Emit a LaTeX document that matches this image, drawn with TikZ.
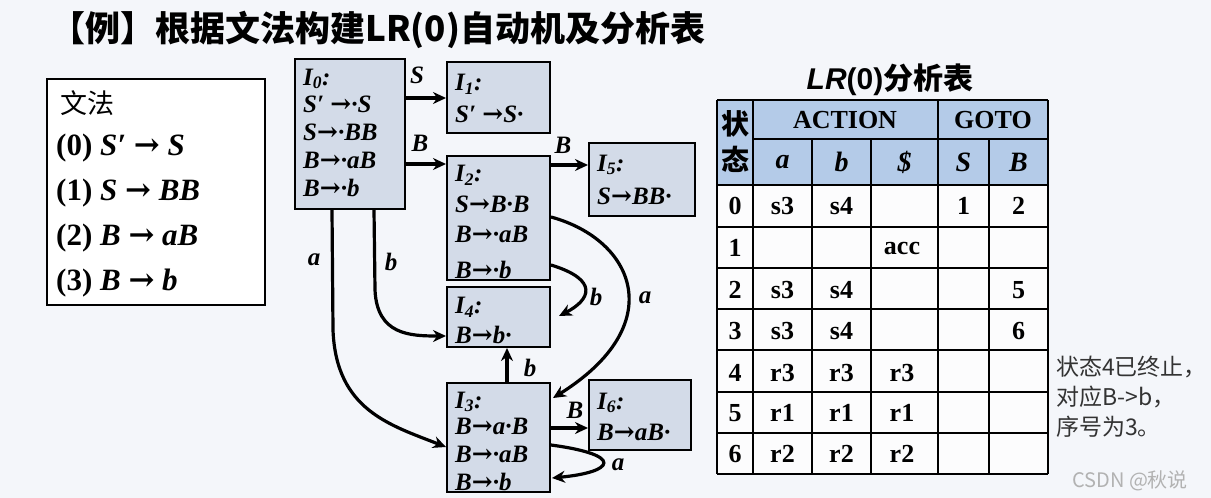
\documentclass[tikz,border=0pt]{standalone}
\usepackage{fontspec}
\setmainfont{Liberation Serif}
\newfontfamily\cjk{Noto Sans CJK SC}
\newfontfamily\hsans{Liberation Sans}
\newfontfamily\dv{DejaVu Serif}
\usetikzlibrary{arrows.meta}
\newcommand{\ar}{{\dv\char"2192}}
\begin{document}
\begin{tikzpicture}[x=1pt,y=-1pt,
  stbox/.style={draw,line width=2pt,fill=boxc},
  ln/.style={anchor=west,font=\fontsize{25}{25}\selectfont\bfseries\itshape,inner sep=0pt},
  gl/.style={anchor=west,font=\fontsize{31}{31}\selectfont\bfseries,inner sep=0pt},
  lab/.style={font=\fontsize{25}{25}\selectfont\bfseries\itshape,inner sep=0pt},
  edge/.style={line width=3.2pt,-{Stealth[length=13pt,width=12pt]}},
  cell/.style={font=\fontsize{26}{26}\selectfont\bfseries,inner sep=0pt},
  tl/.style={line width=2pt}]
\definecolor{boxc}{HTML}{D3DBE8}
\definecolor{hdr}{HTML}{B4CBE8}
\definecolor{bgc}{HTML}{F4F6FA}
\useasboundingbox (0,0) rectangle (1211,498);
\fill[bgc] (0,0) rectangle (1211,498);
% title
\node[anchor=west,inner sep=0pt,font=\cjk\fontsize{35}{35}\selectfont\bfseries] (title) at (50,30) {【例】根据文法构建LR(0)自动机及分析表};
% grammar box
\draw[line width=2pt,fill=white] (47,79) rectangle (265,305);
\node[anchor=west,inner sep=0pt,font=\cjk\fontsize{27}{27}\selectfont] (g0) at (60,103) {文法};
\node[gl] (g1) at (56,148) {(0) \textit{S′} \ar{} \textit{S}};
\node[gl] (g2) at (56,193) {(1) \textit{S} \ar{} \textit{BB}};
\node[gl] (g3) at (56,238) {(2) \textit{B} \ar{} \textit{aB}};
\node[gl] (g4) at (56,283) {(3) \textit{B} \ar{} \textit{b}};
% state boxes
\node[stbox,minimum width=110pt,minimum height=150pt] (I0) at (350,134) {};
\node[stbox,minimum width=103pt,minimum height=71pt] (I1) at (498.5,97.5) {};
\node[stbox,minimum width=103pt,minimum height=124pt] (I2) at (498.5,218) {};
\node[stbox,minimum width=106pt,minimum height=73pt] (I5) at (642,179.5) {};
\node[stbox,minimum width=103pt,minimum height=60pt] (I4) at (498.5,317) {};
\node[stbox,minimum width=103pt,minimum height=109pt] (I3) at (498.5,437.5) {};
\node[stbox,minimum width=102pt,minimum height=70pt] (I6) at (640,415) {};
% texts
\node[ln] at (303,79) {I\textsubscript{0}:};
\node[ln] at (303,104) {S′ \ar·S};
\node[ln] at (303,132) {S\ar·BB};
\node[ln] at (303,160) {B\ar·aB};
\node[ln] at (303,188) {B\ar·b};
\node[ln] at (455,84) {I\textsubscript{1}:};
\node[ln] at (455,114) {S′ \ar S·};
\node[ln] at (455,175) {I\textsubscript{2}:};
\node[ln] at (455,204) {S\ar B·B};
\node[ln] at (455,234) {B\ar·aB};
\node[ln] at (455,270) {B\ar·b};
\node[ln] at (597,165) {I\textsubscript{5}:};
\node[ln] at (597,196) {S\ar BB·};
\node[ln] at (455,307) {I\textsubscript{4}:};
\node[ln] at (455,335) {B\ar b·};
\node[ln] at (455,402) {I\textsubscript{3}:};
\node[ln] at (455,426) {B\ar a·B};
\node[ln] at (455,454) {B\ar·aB};
\node[ln] at (455,482) {B\ar·b};
\node[ln] at (597,403) {I\textsubscript{6}:};
\node[ln] at (597,432) {B\ar aB·};
% edges
\draw[edge] (I0.east |- 0,98) -- (I1.west |- 0,98);
\node[lab] at (417,75) {S};
\draw[edge] (I0.east |- 0,164) -- (I2.west |- 0,164);
\node[lab] at (420,143) {B};
\draw[edge] (I2.east |- 0,165) -- (I5.west |- 0,165);
\node[lab] at (563,145) {B};
\draw[edge] (I0.south -| 374,0) -- (375,290) .. controls (377,335) and (410,336) .. (I4.west |- 0,336);
\node[lab] at (391,262) {b};
\draw[edge] (I0.south -| 332,0) -- (333,330) .. controls (336,410) and (390,425) .. (I3.west |- 0,447);
\node[lab] at (314,260) {a};
\draw[edge] (I2.east |- 0,265) .. controls (600,280) and (590,300) .. (559,316);
\node[lab] at (596,297) {b};
\draw[edge] (I2.east |- 0,217) .. controls (635,240) and (670,325) .. (553,398);
\node[lab] at (645,298) {a};
\draw[edge] (I3.north -| 507,0) -- (I4.south -| 507,0);
\node[lab] at (530,368) {b};
\draw[edge] (I3.east |- 0,428) -- (I6.west |- 0,428);
\node[lab] at (575,410) {B};
\draw[edge] (I3.east |- 0,445) .. controls (625,455) and (615,472) .. (552,478);
\node[lab] at (618,465) {a};
% table
\node[inner sep=0pt,font=\fontsize{30}{30}\selectfont\bfseries] (tt) at (890,80) {{\hsans\itshape LR}{\hsans (0)}{\cjk 分析表}};
\fill[hdr] (717,100) rectangle (1048,185);
\fill[white!70!bgc] (717,185) rectangle (1048,474);
\foreach \x in {717,753,1048} \draw[tl] (\x,100) -- (\x,474);
\foreach \x in {812,871,989} \draw[tl] (\x,139) -- (\x,474);
\draw[tl] (938,100) -- (938,474);
\foreach \y in {100,185,227,268,309,350,392,433,474} \draw[tl] (717,\y) -- (1048,\y);
\draw[tl] (753,139) -- (1048,139);
\node[cell,font=\cjk\fontsize{28}{36}\selectfont\bfseries,align=center] (zt) at (735,142) {状\\态};
\node[cell] (act) at (845,120) {ACTION};
\node[cell] (gto) at (993,120) {GOTO};
\foreach \t [count=\i] in {a,b,\$,S,B} {
  \pgfmathsetmacro{\cx}{{0,782.5,841.5,904.5,963.5,1018.5}[\i]}
  \node[cell,font=\fontsize{28}{28}\selectfont\bfseries\itshape] at (\cx,162) {\t};
}
\newcommand{\rowc}[7]{%
  \node[cell] at (735,#1) {#2};
  \node[cell] at (782.5,#1) {#3};
  \node[cell] at (841.5,#1) {#4};
  \node[cell] at (902,#1) {#5};
  \node[cell] at (963.5,#1) {#6};
  \node[cell] at (1018.5,#1) {#7};}
\rowc{206}{0}{s3}{s4}{}{1}{2}
\rowc{248}{1}{}{}{acc}{}{}
\rowc{290}{2}{s3}{s4}{}{}{5}
\rowc{331}{3}{s3}{s4}{}{}{6}
\rowc{373}{4}{r3}{r3}{r3}{}{}
\rowc{413}{5}{r1}{r1}{r1}{}{}
\rowc{454}{6}{r2}{r2}{r2}{}{}
% note
\node[anchor=north west,inner sep=0pt,align=left,font=\cjk\fontsize{23}{30}\selectfont,text=black!80] (note) at (1056,356) {状态4已终止，\\对应B->b，\\序号为3。};
\node[anchor=west,inner sep=0pt,font=\cjk\fontsize{20}{20}\selectfont,text=black!30] (wm) at (1072,481) {CSDN @秋说};
\end{tikzpicture}
\end{document}
